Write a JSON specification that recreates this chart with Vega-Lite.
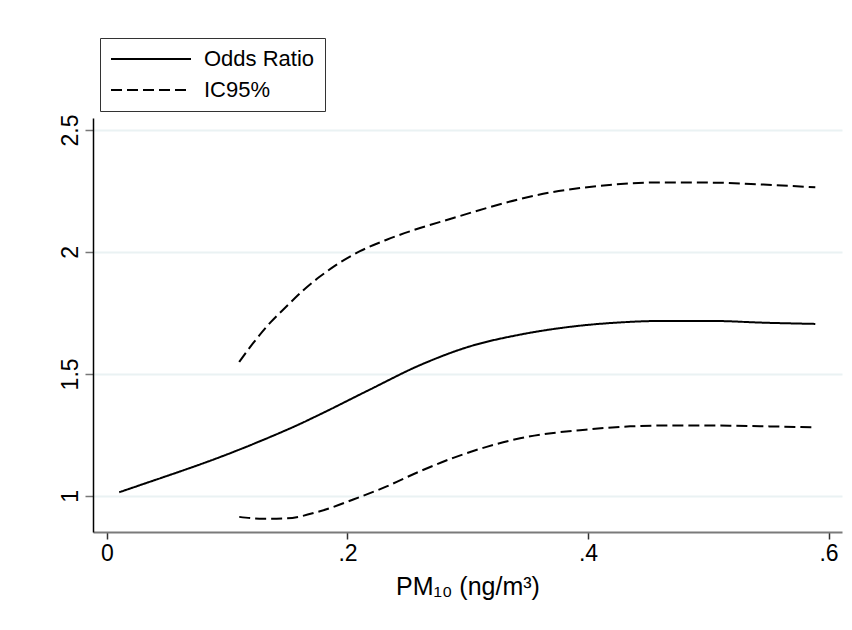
{
  "$schema": "https://vega.github.io/schema/vega-lite/v6.json",
  "autosize": {"type": "none"},
  "padding": {"left": 93, "top": 118, "right": 10, "bottom": 98},
  "width": 749,
  "height": 414,
  "background": "white",
  "config": {
    "view": {"stroke": null},
    "font": "Liberation Sans"
  },
  "data": {
    "values": [
      {"x": 0.0102, "y": 1.015, "series": "Odds Ratio", "curve": "or"},
      {"x": 0.0441, "y": 1.072, "series": "Odds Ratio", "curve": "or"},
      {"x": 0.0607, "y": 1.100, "series": "Odds Ratio", "curve": "or"},
      {"x": 0.094, "y": 1.159, "series": "Odds Ratio", "curve": "or"},
      {"x": 0.1272, "y": 1.224, "series": "Odds Ratio", "curve": "or"},
      {"x": 0.1605, "y": 1.295, "series": "Odds Ratio", "curve": "or"},
      {"x": 0.1771, "y": 1.334, "series": "Odds Ratio", "curve": "or"},
      {"x": 0.2187, "y": 1.436, "series": "Odds Ratio", "curve": "or"},
      {"x": 0.2603, "y": 1.536, "series": "Odds Ratio", "curve": "or"},
      {"x": 0.3019, "y": 1.613, "series": "Odds Ratio", "curve": "or"},
      {"x": 0.3435, "y": 1.661, "series": "Odds Ratio", "curve": "or"},
      {"x": 0.385, "y": 1.693, "series": "Odds Ratio", "curve": "or"},
      {"x": 0.4266, "y": 1.711, "series": "Odds Ratio", "curve": "or"},
      {"x": 0.4599, "y": 1.717, "series": "Odds Ratio", "curve": "or"},
      {"x": 0.5042, "y": 1.717, "series": "Odds Ratio", "curve": "or"},
      {"x": 0.5458, "y": 1.710, "series": "Odds Ratio", "curve": "or"},
      {"x": 0.589, "y": 1.705, "series": "Odds Ratio", "curve": "or"},

      {"x": 0.110, "y": 1.549, "series": "IC95%", "curve": "up"},
      {"x": 0.1217, "y": 1.627, "series": "IC95%", "curve": "up"},
      {"x": 0.1356, "y": 1.709, "series": "IC95%", "curve": "up"},
      {"x": 0.1494, "y": 1.777, "series": "IC95%", "curve": "up"},
      {"x": 0.1633, "y": 1.843, "series": "IC95%", "curve": "up"},
      {"x": 0.1771, "y": 1.899, "series": "IC95%", "curve": "up"},
      {"x": 0.191, "y": 1.948, "series": "IC95%", "curve": "up"},
      {"x": 0.2104, "y": 2.003, "series": "IC95%", "curve": "up"},
      {"x": 0.2326, "y": 2.050, "series": "IC95%", "curve": "up"},
      {"x": 0.2603, "y": 2.098, "series": "IC95%", "curve": "up"},
      {"x": 0.288, "y": 2.139, "series": "IC95%", "curve": "up"},
      {"x": 0.3157, "y": 2.180, "series": "IC95%", "curve": "up"},
      {"x": 0.3435, "y": 2.217, "series": "IC95%", "curve": "up"},
      {"x": 0.3712, "y": 2.246, "series": "IC95%", "curve": "up"},
      {"x": 0.3933, "y": 2.262, "series": "IC95%", "curve": "up"},
      {"x": 0.421, "y": 2.276, "series": "IC95%", "curve": "up"},
      {"x": 0.4626, "y": 2.285, "series": "IC95%", "curve": "up"},
      {"x": 0.5042, "y": 2.284, "series": "IC95%", "curve": "up"},
      {"x": 0.5458, "y": 2.276, "series": "IC95%", "curve": "up"},
      {"x": 0.589, "y": 2.265, "series": "IC95%", "curve": "up"},

      {"x": 0.110, "y": 0.914, "series": "IC95%", "curve": "lo"},
      {"x": 0.130, "y": 0.906, "series": "IC95%", "curve": "lo"},
      {"x": 0.1494, "y": 0.908, "series": "IC95%", "curve": "lo"},
      {"x": 0.1771, "y": 0.937, "series": "IC95%", "curve": "lo"},
      {"x": 0.2048, "y": 0.985, "series": "IC95%", "curve": "lo"},
      {"x": 0.2326, "y": 1.039, "series": "IC95%", "curve": "lo"},
      {"x": 0.2603, "y": 1.101, "series": "IC95%", "curve": "lo"},
      {"x": 0.288, "y": 1.156, "series": "IC95%", "curve": "lo"},
      {"x": 0.3157, "y": 1.201, "series": "IC95%", "curve": "lo"},
      {"x": 0.3435, "y": 1.236, "series": "IC95%", "curve": "lo"},
      {"x": 0.3712, "y": 1.258, "series": "IC95%", "curve": "lo"},
      {"x": 0.3933, "y": 1.269, "series": "IC95%", "curve": "lo"},
      {"x": 0.435, "y": 1.285, "series": "IC95%", "curve": "lo"},
      {"x": 0.4765, "y": 1.289, "series": "IC95%", "curve": "lo"},
      {"x": 0.518, "y": 1.288, "series": "IC95%", "curve": "lo"},
      {"x": 0.5597, "y": 1.284, "series": "IC95%", "curve": "lo"},
      {"x": 0.589, "y": 1.281, "series": "IC95%", "curve": "lo"}
    ]
  },
  "mark": {"type": "line", "color": "black", "strokeWidth": 2, "interpolate": "monotone"},
  "encoding": {
    "x": {
      "field": "x",
      "type": "quantitative",
      "scale": {"domain": [-0.0116, 0.6112], "nice": false, "zero": false},
      "axis": {
        "values": [0, 0.2, 0.4, 0.6],
        "labelExpr": "datum.value == 0 ? '0' : replace(format(datum.value, '.1f'), '0.', '.')",
        "title": "PM₁₀ (ng/m³)",
        "titleFontSize": 25,
        "titleFontWeight": "normal",
        "titleColor": "black",
        "titlePadding": 9,
        "labelFontSize": 23,
        "labelColor": "black",
        "labelPadding": 3,
        "tickSize": 7,
        "tickColor": "#333333",
        "tickWidth": 1.5,
        "domainColor": "#7a7a7a",
        "domainWidth": 2,
        "grid": false,
        "labelFlush": false
      }
    },
    "y": {
      "field": "y",
      "type": "quantitative",
      "scale": {"domain": [0.852, 2.549], "nice": false, "zero": false},
      "axis": {
        "values": [1, 1.5, 2, 2.5],
        "format": "~g",
        "title": null,
        "labelAngle": 270,
        "labelAlign": "center",
        "labelBaseline": "alphabetic",
        "labelFontSize": 23,
        "labelColor": "black",
        "labelPadding": 8,
        "tickSize": 8,
        "tickColor": "#777777",
        "tickWidth": 1.5,
        "domainColor": "black",
        "domainWidth": 1.5,
        "grid": true,
        "gridColor": "#eaf2f3",
        "gridWidth": 2,
        "labelFlush": false
      }
    },
    "strokeDash": {
      "field": "series",
      "type": "nominal",
      "scale": {"domain": ["Odds Ratio", "IC95%"], "range": [[1, 0], [11, 5]]},
      "legend": {
        "title": null,
        "orient": "none",
        "legendX": 7,
        "legendY": -80,
        "padding": 10,
        "strokeColor": "#333333",
        "fillColor": "white",
        "symbolType": "M-1,0H7",
        "symbolSize": 400,
        "symbolStrokeWidth": 2,
        "symbolStrokeColor": "black",
        "labelFontSize": 22,
        "labelColor": "black",
        "labelOffset": 72,
        "rowPadding": 9
      }
    },
    "detail": {"field": "curve", "type": "nominal"}
  }
}
